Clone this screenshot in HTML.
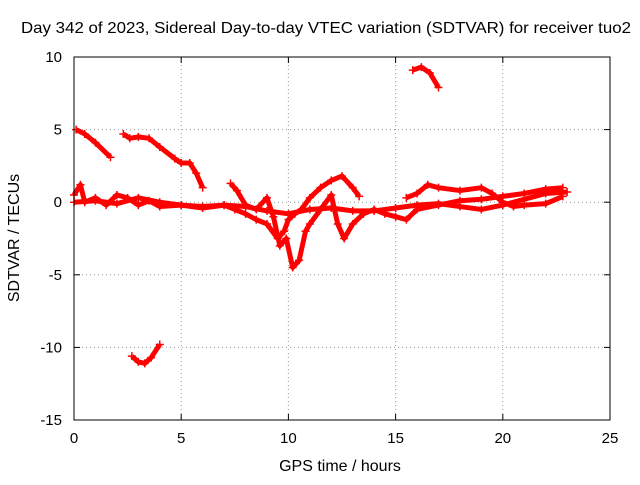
<!DOCTYPE html>
<html><head><meta charset="utf-8"><style>
body{margin:0;background:#fff}
svg text{font-family:"Liberation Sans",sans-serif;font-size:15px;fill:#000}
svg text.big{font-size:16px}
</style></head><body>
<svg id="chart" width="640" height="480" xmlns="http://www.w3.org/2000/svg">
<text class="big" x="326" y="33" text-anchor="middle" textLength="610" lengthAdjust="spacingAndGlyphs">Day 342 of 2023, Sidereal Day-to-day VTEC variation (SDTVAR) for receiver tuo2</text>
<text class="big" x="340" y="471" text-anchor="middle">GPS time / hours</text>
<text class="big" transform="translate(19,238) rotate(-90)" text-anchor="middle">SDTVAR / TECUs</text>
<g id="grid"></g><g id="ticks"></g><g id="marks"></g>
<rect x="74" y="57" width="536" height="363" fill="none" stroke="#000" stroke-width="1"/>
</svg>
<script>
const xTicks=[0,5,10,15,20,25];
const yTicks=[10,5,0,-5,-10,-15];
const seg1=[[0.1,5],[0.5,4.7],[1,4.1],[1.7,3.1]];
const seg2=[[2.3,4.7],[2.6,4.4],[3,4.5],[3.5,4.4],[4,3.8],[4.7,3.0],[5,2.7],[5.4,2.7],[5.7,2.0],[6,1.0]];
const seg3=[[2.7,-10.6],[3,-11],[3.3,-11.1],[3.6,-10.7],[4,-9.8]];
const seg4=[[15.8,9.1],[16.2,9.3],[16.6,8.9],[17,7.9]];
const strandA=[[0,0.5],[0.3,1.2],[0.5,0],[1,0.3],[1.5,-0.2],[2,0.5],[2.5,0.3],[3,-0.2],[3.5,0.1],[4,-0.3],[5,-0.2],[6,-0.4],[7,-0.2],[7.5,-0.5],[8,-0.8],[8.5,-1.2],[9,-1.5],[9.5,-2.5],[9.8,-2.0],[10,-1.2],[10.3,-0.8],[10.6,-0.5],[11,0.3],[11.5,1],[12,1.5],[12.5,1.8],[13,1.0],[13.3,0.4]];
const strandB=[[7.3,1.3],[7.6,0.8],[8,-0.2],[8.5,-0.5],[9,0.3],[9.3,-1],[9.6,-3],[9.9,-2.5],[10.2,-4.5],[10.5,-4],[10.8,-2],[11,-1.5],[11.5,-0.5],[12,0.5],[12.3,-1.5],[12.6,-2.5],[13,-1.5],[13.5,-0.8],[14,-0.5],[14.5,-0.8],[15,-1.0],[15.5,-1.2],[16,-0.5],[17,-0.2],[18,0.1],[19,0.2],[20,0.4],[21,0.6],[22,0.9],[22.8,1.0]];
const strandC=[[15.5,0.3],[16,0.6],[16.5,1.2],[17,1.0],[18,0.8],[19,1.0],[19.5,0.6],[20,0],[20.5,-0.3],[21,-0.2],[22,-0.1],[22.8,0.4]];
const strandD=[[0,0],[1,0.1],[2,-0.1],[3,0.3],[4,0],[5,-0.2],[6,-0.3],[7,-0.2],[8,-0.3],[9,-0.6],[10,-0.8],[11,-0.5],[12,-0.4],[13,-0.6],[14,-0.6],[15,-0.4],[16,-0.2],[17,-0.1],[18,-0.3],[19,-0.5],[20,-0.2],[21,0.2],[22,0.6],[23,0.7]];
const series=[seg1,seg2,seg3,seg4,strandA,strandB,strandC,strandD];
const X=v=>74+v*536/25, Y=v=>57+(10-v)*363/25;
const NS="http://www.w3.org/2000/svg";
function mk(t,a,p){const e=document.createElementNS(NS,t);for(const k in a)e.setAttribute(k,a[k]);p.appendChild(e);return e;}
const g=document.getElementById('grid'),tk=document.getElementById('ticks'),m=document.getElementById('marks');
xTicks.forEach(v=>{const x=X(v);
 if(v>0&&v<25){const l=mk('line',{x1:x,x2:x,y1:57,y2:420,stroke:'#999','stroke-dasharray':'1,3'},g);}
 mk('line',{x1:x,x2:x,y1:420,y2:414,stroke:'#000'},tk);mk('line',{x1:x,x2:x,y1:57,y2:63,stroke:'#000'},tk);
 const t=mk('text',{x:x,y:443,'text-anchor':'middle'},tk);t.textContent=v;
 });
yTicks.forEach(v=>{const y=Y(v);
 if(v<10&&v>-15){const l=mk('line',{x1:74,x2:610,y1:y,y2:y,stroke:'#999','stroke-dasharray':'1,3'},g);}
 mk('line',{x1:74,x2:80,y1:y,y2:y,stroke:'#000'},tk);mk('line',{x1:610,x2:604,y1:y,y2:y,stroke:'#000'},tk);
 const t=mk('text',{x:62,y:y+5,'text-anchor':'end'},tk);t.textContent=v;
 });
series.forEach(s=>{
 const pl=mk('polyline',{points:s.map(p=>X(p[0])+','+Y(p[1])).join(' '),fill:'none',stroke:'#f00','stroke-width':5,'stroke-linejoin':'round'},m);
 
 s.forEach(p=>{const x=X(p[0]),y=Y(p[1]);
  const pt=mk('path',{d:`M${x-4},${y}H${x+4}M${x},${y-4}V${y+4}`,stroke:'#f00','stroke-width':1.5},m);
  });
});
</script>
</body></html>
